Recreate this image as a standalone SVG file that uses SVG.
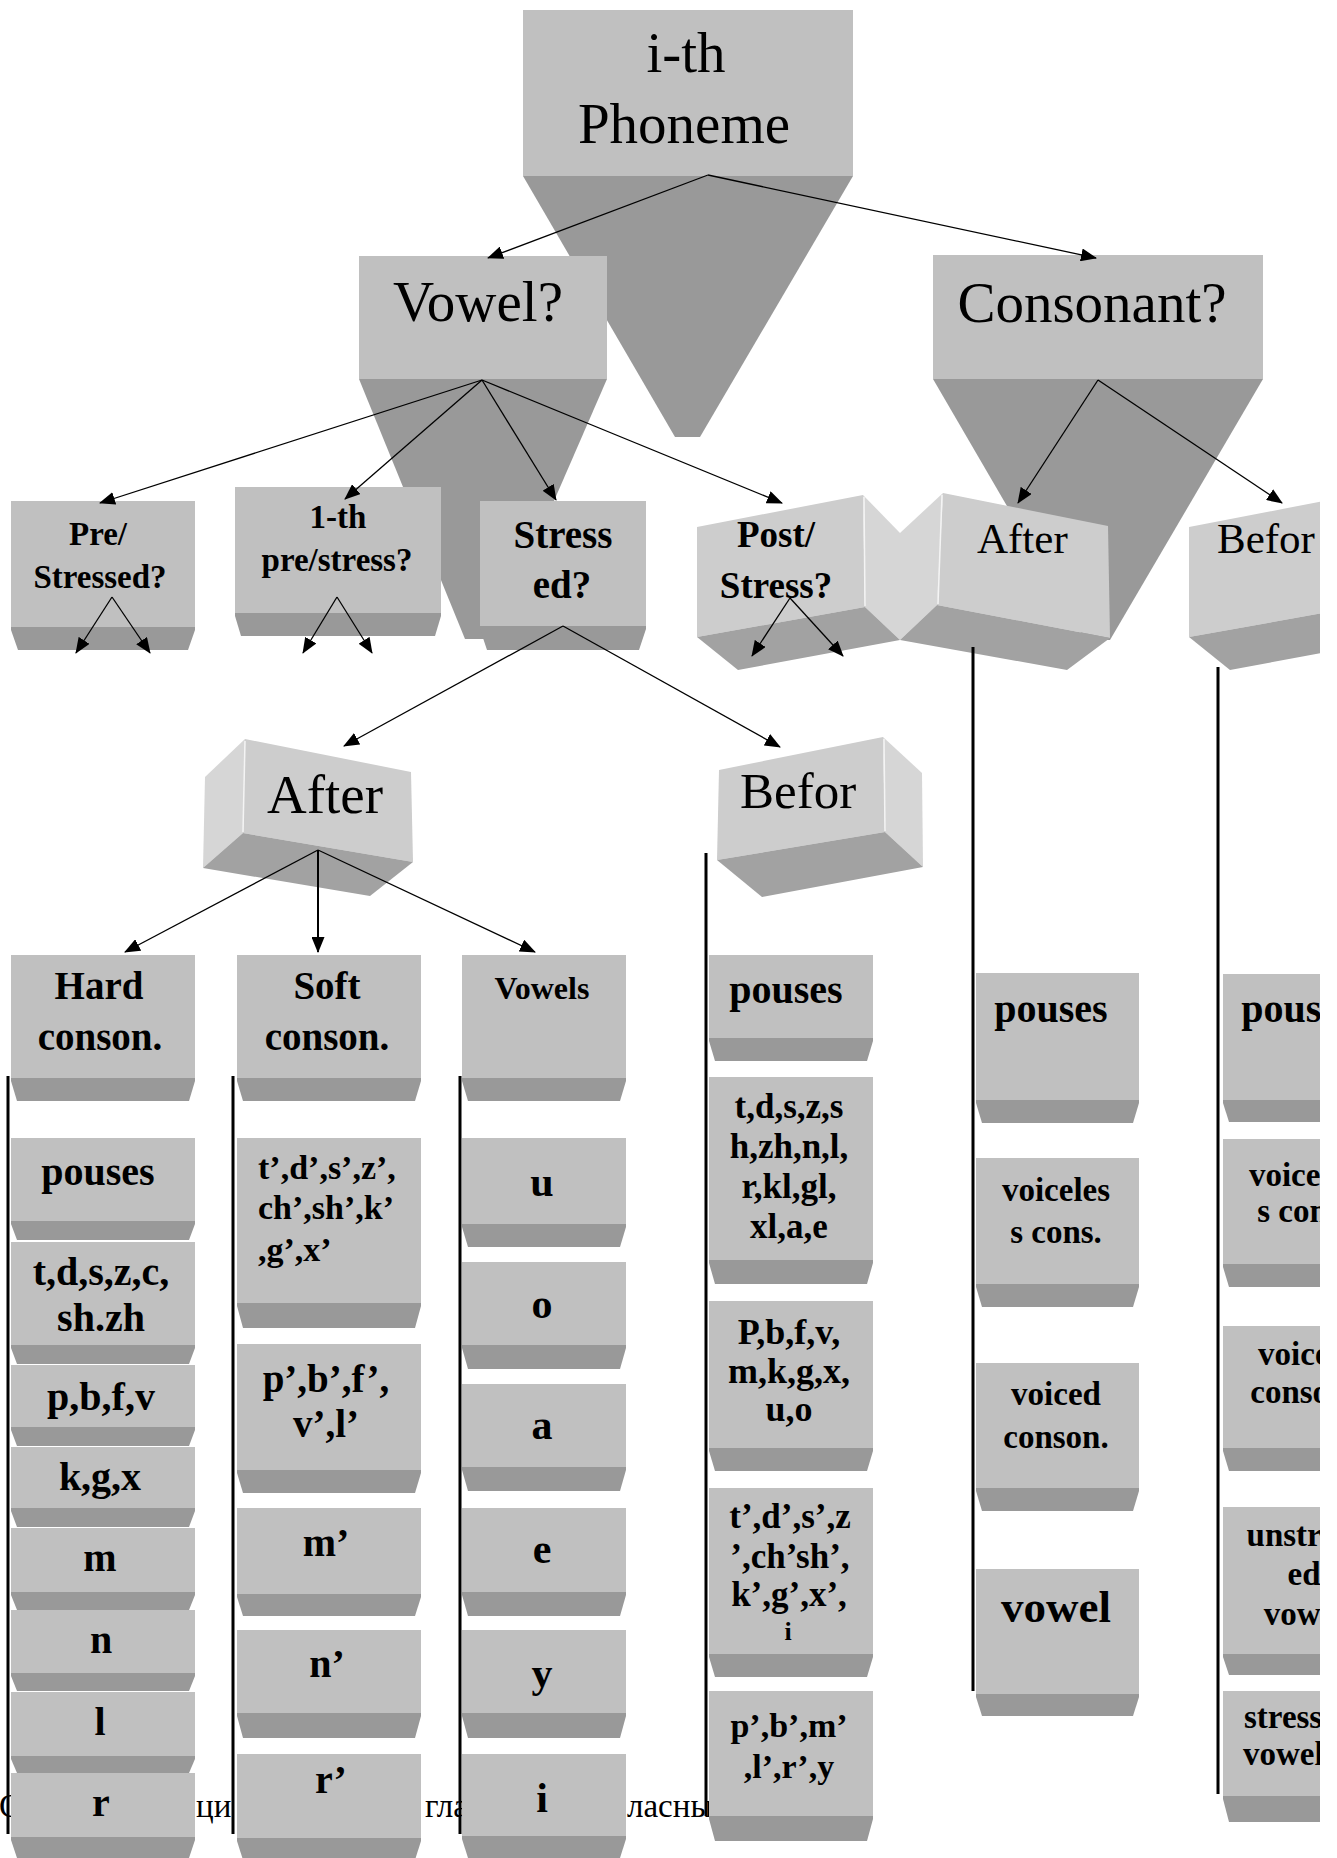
<svg xmlns="http://www.w3.org/2000/svg" width="1337" height="1858" viewBox="0 0 1337 1858">
<style>
.face{fill:#c0c0c0}
.band{fill:#999999}
.dk{fill:#999999}
.f3{fill:#cdcdcd}
.s3{fill:#d6d6d6}
.b3{fill:#a2a2a2}
.sep{stroke:#f4f4f4;stroke-width:1.5}
.t{font-family:"Liberation Serif","Times New Roman",serif;text-anchor:middle;fill:#000}
.st{text-anchor:start}
.b{font-weight:bold}
.ar{stroke:#000;stroke-width:1.3;fill:none;marker-end:url(#ah)}
.col{stroke:#000;stroke-width:3}
.cap{font-family:"Liberation Serif","Times New Roman",serif;font-size:33px;fill:#000}
</style>
<defs>
<marker id="ah" markerUnits="userSpaceOnUse" markerWidth="16" markerHeight="13" refX="15" refY="6.5" orient="auto">
<path d="M0,0 L16,6.5 L0,13 z" fill="#000"/>
</marker>
<clipPath id="clip"><rect x="0" y="0" width="1320" height="1858"/></clipPath>
</defs>
<rect x="0" y="0" width="1337" height="1858" fill="#fff"/>
<g clip-path="url(#clip)">

<g id="caption">
<text class="cap" x="-1" y="1817">С</text>
<text class="cap" x="196" y="1817">ци</text>
<text class="cap" x="425" y="1817">гла</text>
<text class="cap" x="627" y="1817">ласны</text>
</g>

<g id="root">
<polygon class="dk" points="523,176 853,176 700,437 675,437"/>
<rect class="face" x="523" y="10" width="330" height="166"/>
<text class="t" x="686" y="72" font-size="57">i-th</text>
<text class="t" x="684" y="143" font-size="57">Phoneme</text>
</g>

<g id="vowel">
<polygon class="dk" points="359,379 607,379 494,639 465,639"/>
<rect class="face" x="359" y="256" width="248" height="123"/>
<text class="t" x="478" y="321" font-size="57">Vowel?</text>
</g>

<g id="consonant">
<polygon class="dk" points="933,379 1263,379 1110,640 1085,640"/>
<rect class="face" x="933" y="255" width="330" height="124"/>
<text class="t" x="1092" y="322" font-size="57">Consonant?</text>
</g>

<g id="pre-stressed">
<rect class="face" x="11" y="501" width="184" height="126"/>
<polygon class="band" points="11,627 195,627 195,630 188,650 18,650 11,630"/>
<text class="t b" x="98" y="545" font-size="33">Pre/</text>
<text class="t b" x="100" y="588" font-size="33">Stressed?</text>
</g>

<g id="first-pre-stress">
<rect class="face" x="235" y="487" width="206" height="126"/>
<polygon class="band" points="235,613 441,613 441,616 435,636 241,636 235,616"/>
<text class="t b" x="338" y="528" font-size="33">1-th</text>
<text class="t b" x="337" y="571" font-size="33">pre/stress?</text>
</g>

<g id="stressed">
<rect class="face" x="480" y="501" width="166" height="125"/>
<polygon class="band" points="480,626 646,626 646,629 639,650 487,650 480,629"/>
<text class="t b" x="563" y="548" font-size="39">Stress</text>
<text class="t b" x="562" y="598" font-size="39">ed?</text>
</g>

<g id="post-stress">
<polygon class="f3" points="697,527 863,495 865,607 697,637"/>
<polygon class="s3" points="863,495 900,533 900,640 865,607"/>
<polygon class="b3" points="697,637 865,607 900,640 738,670"/>
<line class="sep" x1="864" y1="497" x2="865" y2="606"/>
<text class="t b" x="776" y="547" font-size="37">Post/</text>
<text class="t b" x="776" y="598" font-size="37">Stress?</text>
</g>

<g id="cons-after">
<polygon class="s3" points="943,493 900,533 900,640 937,605"/>
<polygon class="f3" points="943,493 1108,526 1110,638 937,605"/>
<polygon class="b3" points="900,640 937,605 1110,638 1067,670"/>
<line class="sep" x1="942" y1="495" x2="938" y2="604"/>
<text class="t st" x="977" y="553" font-size="43">After</text>
</g>

<g id="cons-before">
<polygon class="f3" points="1189,527 1355,495 1357,607 1189,637"/>
<polygon class="s3" points="1355,495 1392,533 1392,640 1357,607"/>
<polygon class="b3" points="1189,637 1357,607 1392,640 1230,670"/>
<text class="t st" x="1217" y="553" font-size="43">Befor</text>
</g>

<g id="stressed-after">
<polygon class="s3" points="245,739 205,777 203,868 243,833"/>
<polygon class="f3" points="245,739 411,772 413,862 243,833"/>
<polygon class="b3" points="243,833 413,862 370,896 203,868"/>
<line class="sep" x1="245" y1="741" x2="243" y2="832"/>
<text class="t st" x="267" y="813" font-size="55">After</text>
</g>

<g id="stressed-before">
<polygon class="f3" points="719,770 883,737 885,832 717,860"/>
<polygon class="s3" points="883,737 922,773 923,867 885,832"/>
<polygon class="b3" points="717,860 885,832 923,867 762,897"/>
<line class="sep" x1="884" y1="739" x2="885" y2="831"/>
<text class="t st" x="740" y="808" font-size="51">Befor</text>
</g>

<!-- Hard consonants column -->
<g id="hard-header">
<rect class="face" x="11" y="955" width="184" height="123"/>
<polygon class="band" points="11,1078 195,1078 195,1081 189,1101 17,1101 11,1081"/>
<text class="t b" x="99" y="999" font-size="39">Hard</text>
<text class="t b" x="100" y="1050" font-size="39">conson.</text>
</g>
<g id="hard-pouses">
<rect class="face" x="11" y="1138" width="184" height="83"/>
<polygon class="band" points="11,1221 195,1221 195,1224 189,1240 17,1240 11,1224"/>
<text class="t b" x="98" y="1185" font-size="40">pouses</text>
</g>
<g id="hard-tdszc">
<rect class="face" x="11" y="1242" width="184" height="103"/>
<polygon class="band" points="11,1345 195,1345 195,1348 189,1364 17,1364 11,1348"/>
<text class="t b" x="101" y="1285" font-size="40">t,d,s,z,c,</text>
<text class="t b" x="101" y="1331" font-size="40">sh.zh</text>
</g>
<g id="hard-pbfv">
<rect class="face" x="11" y="1365" width="184" height="62"/>
<polygon class="band" points="11,1427 195,1427 195,1430 189,1446 17,1446 11,1430"/>
<text class="t b" x="101" y="1410" font-size="40">p,b,f,v</text>
</g>
<g id="hard-kgx">
<rect class="face" x="11" y="1447" width="184" height="61"/>
<polygon class="band" points="11,1508 195,1508 195,1511 189,1527 17,1527 11,1511"/>
<text class="t b" x="100" y="1490" font-size="40">k,g,x</text>
</g>
<g id="hard-m">
<rect class="face" x="11" y="1528" width="184" height="64"/>
<polygon class="band" points="11,1592 195,1592 195,1595 189,1610 17,1610 11,1595"/>
<text class="t b" x="100" y="1571" font-size="40">m</text>
</g>
<g id="hard-n">
<rect class="face" x="11" y="1610" width="184" height="63"/>
<polygon class="band" points="11,1673 195,1673 195,1676 189,1691 17,1691 11,1676"/>
<text class="t b" x="101" y="1653" font-size="40">n</text>
</g>
<g id="hard-l">
<rect class="face" x="11" y="1692" width="184" height="64"/>
<polygon class="band" points="11,1756 195,1756 195,1759 189,1773 17,1773 11,1759"/>
<text class="t b" x="100" y="1735" font-size="40">l</text>
</g>
<g id="hard-r">
<rect class="face" x="11" y="1773" width="184" height="64"/>
<polygon class="band" points="11,1837 195,1837 195,1840 189,1858 17,1858 11,1840"/>
<text class="t b" x="101" y="1816" font-size="40">r</text>
</g>

<!-- Soft consonants column -->
<g id="soft-header">
<rect class="face" x="237" y="955" width="184" height="123"/>
<polygon class="band" points="237,1078 421,1078 421,1081 415,1101 243,1101 237,1081"/>
<text class="t b" x="327" y="999" font-size="39">Soft</text>
<text class="t b" x="327" y="1050" font-size="39">conson.</text>
</g>
<g id="soft-tdsz">
<rect class="face" x="237" y="1138" width="184" height="165"/>
<polygon class="band" points="237,1303 421,1303 421,1306 415,1328 243,1328 237,1306"/>
<text class="t b st" x="258" y="1179" font-size="34">t’,d’,s’,z’,</text>
<text class="t b st" x="258" y="1219" font-size="34">ch’,sh’,k’</text>
<text class="t b st" x="258" y="1261" font-size="34">,g’,x’</text>
</g>
<g id="soft-pbfvl">
<rect class="face" x="237" y="1344" width="184" height="126"/>
<polygon class="band" points="237,1470 421,1470 421,1473 415,1493 243,1493 237,1473"/>
<text class="t b" x="326" y="1392" font-size="39">p’,b’,f’,</text>
<text class="t b" x="326" y="1437" font-size="39">v’,l’</text>
</g>
<g id="soft-m">
<rect class="face" x="237" y="1508" width="184" height="86"/>
<polygon class="band" points="237,1594 421,1594 421,1597 415,1616 243,1616 237,1597"/>
<text class="t b" x="326" y="1556" font-size="40">m’</text>
</g>
<g id="soft-n">
<rect class="face" x="237" y="1630" width="184" height="83"/>
<polygon class="band" points="237,1713 421,1713 421,1716 415,1738 243,1738 237,1716"/>
<text class="t b" x="327" y="1677" font-size="40">n’</text>
</g>
<g id="soft-r">
<rect class="face" x="237" y="1754" width="184" height="84"/>
<polygon class="band" points="237,1838 421,1838 421,1841 415,1860 243,1860 237,1841"/>
<text class="t b" x="331" y="1793" font-size="40">r’</text>
</g>

<!-- Vowels column -->
<g id="vowels-header">
<rect class="face" x="462" y="955" width="164" height="123"/>
<polygon class="band" points="462,1078 626,1078 626,1081 620,1101 468,1101 462,1081"/>
<text class="t b" x="542" y="999" font-size="32">Vowels</text>
</g>
<g id="vowel-u">
<rect class="face" x="462" y="1138" width="164" height="86"/>
<polygon class="band" points="462,1224 626,1224 626,1227 620,1247 468,1247 462,1227"/>
<text class="t b" x="542" y="1196" font-size="42">u</text>
</g>
<g id="vowel-o">
<rect class="face" x="462" y="1262" width="164" height="83"/>
<polygon class="band" points="462,1345 626,1345 626,1348 620,1369 468,1369 462,1348"/>
<text class="t b" x="542" y="1318" font-size="42">o</text>
</g>
<g id="vowel-a">
<rect class="face" x="462" y="1384" width="164" height="83"/>
<polygon class="band" points="462,1467 626,1467 626,1470 620,1491 468,1491 462,1470"/>
<text class="t b" x="542" y="1439" font-size="42">a</text>
</g>
<g id="vowel-e">
<rect class="face" x="462" y="1508" width="164" height="84"/>
<polygon class="band" points="462,1592 626,1592 626,1595 620,1616 468,1616 462,1595"/>
<text class="t b" x="542" y="1563" font-size="42">e</text>
</g>
<g id="vowel-y">
<rect class="face" x="462" y="1630" width="164" height="83"/>
<polygon class="band" points="462,1713 626,1713 626,1716 620,1738 468,1738 462,1716"/>
<text class="t b" x="542" y="1687" font-size="42">y</text>
</g>
<g id="vowel-i">
<rect class="face" x="462" y="1754" width="164" height="82"/>
<polygon class="band" points="462,1836 626,1836 626,1839 620,1858 468,1858 462,1839"/>
<text class="t b" x="542" y="1812" font-size="42">i</text>
</g>

<!-- Before (stressed vowel) column -->
<g id="sb-pouses">
<rect class="face" x="709" y="955" width="164" height="83"/>
<polygon class="band" points="709,1038 873,1038 873,1041 867,1061 715,1061 709,1041"/>
<text class="t b" x="786" y="1003" font-size="40">pouses</text>
</g>
<g id="sb-hard">
<rect class="face" x="709" y="1077" width="164" height="183"/>
<polygon class="band" points="709,1260 873,1260 873,1263 867,1284 715,1284 709,1263"/>
<text class="t b" x="789" y="1118" font-size="35">t,d,s,z,s</text>
<text class="t b" x="789" y="1158" font-size="35">h,zh,n,l,</text>
<text class="t b" x="789" y="1198" font-size="35">r,kl,gl,</text>
<text class="t b" x="789" y="1238" font-size="35">xl,a,e</text>
</g>
<g id="sb-labial">
<rect class="face" x="709" y="1301" width="164" height="147"/>
<polygon class="band" points="709,1448 873,1448 873,1451 867,1471 715,1471 709,1451"/>
<text class="t b" x="789" y="1344" font-size="36">P,b,f,v,</text>
<text class="t b" x="789" y="1383" font-size="36">m,k,g,x,</text>
<text class="t b" x="789" y="1421" font-size="36">u,o</text>
</g>
<g id="sb-soft">
<rect class="face" x="709" y="1488" width="164" height="166"/>
<polygon class="band" points="709,1654 873,1654 873,1657 867,1677 715,1677 709,1657"/>
<text class="t b" x="790" y="1528" font-size="35">t’,d’,s’,z</text>
<text class="t b" x="790" y="1568" font-size="35">’,ch’sh’,</text>
<text class="t b" x="789" y="1606" font-size="35">k’,g’,x’,</text>
<text class="t b" x="788" y="1640" font-size="26">i</text>
</g>
<g id="sb-soft2">
<rect class="face" x="709" y="1691" width="164" height="125"/>
<polygon class="band" points="709,1816 873,1816 873,1819 867,1841 715,1841 709,1819"/>
<text class="t b" x="789" y="1737" font-size="34">p’,b’,m’</text>
<text class="t b" x="789" y="1778" font-size="34">,l’,r’,y</text>
</g>

<!-- After (consonant) column -->
<g id="ca-pouses">
<rect class="face" x="976" y="973" width="163" height="127"/>
<polygon class="band" points="976,1100 1139,1100 1139,1103 1133,1123 982,1123 976,1103"/>
<text class="t b" x="1051" y="1022" font-size="40">pouses</text>
</g>
<g id="ca-voiceless">
<rect class="face" x="976" y="1158" width="163" height="126"/>
<polygon class="band" points="976,1284 1139,1284 1139,1287 1133,1307 982,1307 976,1287"/>
<text class="t b" x="1056" y="1201" font-size="33">voiceles</text>
<text class="t b" x="1056" y="1243" font-size="33">s cons.</text>
</g>
<g id="ca-voiced">
<rect class="face" x="976" y="1363" width="163" height="125"/>
<polygon class="band" points="976,1488 1139,1488 1139,1491 1133,1511 982,1511 976,1491"/>
<text class="t b" x="1056" y="1405" font-size="33">voiced</text>
<text class="t b" x="1056" y="1448" font-size="33">conson.</text>
</g>
<g id="ca-vowel">
<rect class="face" x="976" y="1569" width="163" height="125"/>
<polygon class="band" points="976,1694 1139,1694 1139,1697 1133,1716 982,1716 976,1697"/>
<text class="t b" x="1056" y="1622" font-size="45">vowel</text>
</g>

<!-- Before (consonant) column -->
<g id="cb-pouses">
<rect class="face" x="1223" y="974" width="163" height="126"/>
<polygon class="band" points="1223,1100 1386,1100 1386,1103 1380,1122 1229,1122 1223,1103"/>
<text class="t b" x="1298" y="1022" font-size="40">pouses</text>
</g>
<g id="cb-voiceless">
<rect class="face" x="1223" y="1139" width="163" height="125"/>
<polygon class="band" points="1223,1264 1386,1264 1386,1267 1380,1287 1229,1287 1223,1267"/>
<text class="t b" x="1303" y="1186" font-size="33">voiceles</text>
<text class="t b" x="1303" y="1222" font-size="33">s cons.</text>
</g>
<g id="cb-voiced">
<rect class="face" x="1223" y="1326" width="163" height="122"/>
<polygon class="band" points="1223,1448 1386,1448 1386,1451 1380,1471 1229,1471 1223,1451"/>
<text class="t b" x="1303" y="1365" font-size="33">voiced</text>
<text class="t b" x="1303" y="1403" font-size="33">conson.</text>
</g>
<g id="cb-unstressed">
<rect class="face" x="1223" y="1507" width="163" height="147"/>
<polygon class="band" points="1223,1654 1386,1654 1386,1657 1380,1675 1229,1675 1223,1657"/>
<text class="t b" x="1304" y="1546" font-size="33">unstress</text>
<text class="t b" x="1304" y="1585" font-size="33">ed</text>
<text class="t b" x="1304" y="1625" font-size="33">vowel</text>
</g>
<g id="cb-stressed">
<rect class="face" x="1223" y="1691" width="163" height="105"/>
<polygon class="band" points="1223,1796 1386,1796 1386,1799 1380,1822 1229,1822 1223,1799"/>
<text class="t b st" x="1244" y="1728" font-size="33">stressed</text>
<text class="t b st" x="1243" y="1765" font-size="33">vowels</text>
</g>

<g id="connectors">
<line class="col" x1="8" y1="1076" x2="8" y2="1834"/>
<line class="col" x1="233" y1="1076" x2="233" y2="1834"/>
<line class="col" x1="460" y1="1076" x2="460" y2="1834"/>
<line class="col" x1="706" y1="853" x2="706" y2="1816"/>
<line class="col" x1="973" y1="647" x2="973" y2="1691"/>
<line class="col" x1="1218" y1="667" x2="1218" y2="1794"/>
<line class="ar" x1="708" y1="175" x2="488" y2="258"/>
<line class="ar" x1="708" y1="175" x2="1096" y2="258"/>
<line class="ar" x1="482" y1="380" x2="100" y2="503"/>
<line class="ar" x1="482" y1="380" x2="345" y2="499"/>
<line class="ar" x1="482" y1="380" x2="556" y2="500"/>
<line class="ar" x1="482" y1="380" x2="782" y2="503"/>
<line class="ar" x1="1098" y1="380" x2="1018" y2="503"/>
<line class="ar" x1="1098" y1="380" x2="1282" y2="503"/>
<line class="ar" x1="563" y1="626" x2="344" y2="746"/>
<line class="ar" x1="563" y1="626" x2="780" y2="747"/>
<line class="ar" x1="318" y1="850" x2="125" y2="952"/>
<line class="ar" x1="318" y1="850" x2="318" y2="952" style="stroke-width:2"/>
<line class="ar" x1="318" y1="850" x2="535" y2="952"/>
<line class="ar" x1="112" y1="597" x2="76" y2="653"/>
<line class="ar" x1="112" y1="597" x2="150" y2="653"/>
<line class="ar" x1="337" y1="597" x2="303" y2="653"/>
<line class="ar" x1="337" y1="597" x2="372" y2="653"/>
<line class="ar" x1="790" y1="598" x2="752" y2="656"/>
<line class="ar" x1="790" y1="598" x2="843" y2="656"/>
</g>
</g>
</svg>
